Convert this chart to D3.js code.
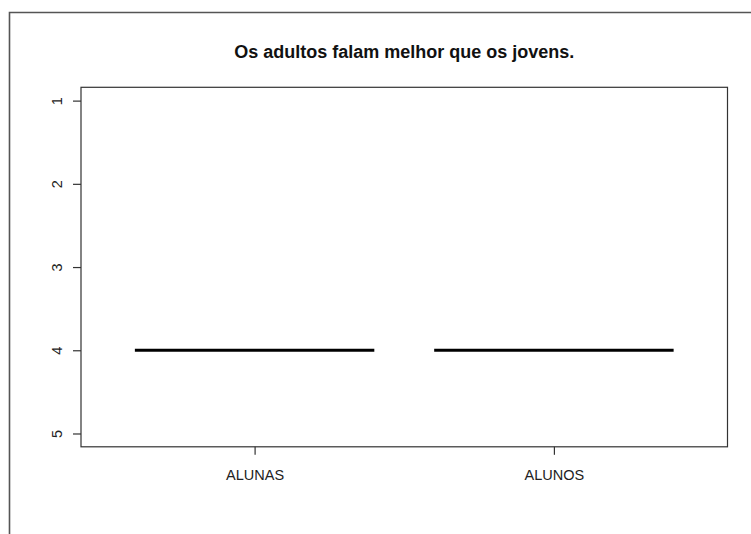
<!DOCTYPE html>
<html><head><meta charset="utf-8">
<script src="https://cdn.jsdelivr.net/npm/d3@7"></script>
<style>html,body{margin:0;padding:0;background:#fff;}svg{display:block;font-family:"Liberation Sans",Arial,sans-serif;}</style>
</head><body>
<script>
const categories = ["ALUNAS", "ALUNOS"];
const medians = [4, 4];
const q1 = [4, 4];
const q3 = [4, 4];
const yTicks = [1, 2, 3, 4, 5];
const title = "Os adultos falam melhor que os jovens.";

const W = 751, H = 534;
const plot = {left: 81, right: 727.5, top: 87.3, bottom: 446.8};
const svg = d3.select("body").append("svg").attr("width", W).attr("height", H);

// outer frame (top and left edges visible)
svg.append("path").attr("d", `M9.5,${H} V12.5 H${W}`).attr("fill","none").attr("stroke","#555").attr("stroke-width",1.6);

const x = d3.scaleLinear().domain([0.42, 2.58]).range([plot.left, plot.right]);
const y = d3.scaleLinear().domain([0.84, 5.16]).range([plot.top, plot.bottom]);
const boxW = 0.8;

// boxes (degenerate: q1 = median = q3)
const g = svg.append("g");
categories.forEach((c, i) => {
  const cx = i + 1;
  g.append("rect").attr("x", x(cx - boxW/2)).attr("width", x(cx + boxW/2) - x(cx - boxW/2))
    .attr("y", y(Math.min(q1[i], q3[i]))).attr("height", Math.abs(y(q3[i]) - y(q1[i])))
    .attr("fill","none").attr("stroke","#000").attr("stroke-width",1);
  g.append("line").attr("x1", x(cx - boxW/2)).attr("x2", x(cx + boxW/2))
    .attr("y1", y(medians[i])).attr("y2", y(medians[i]))
    .attr("stroke","#000").attr("stroke-width",3.2);
});

// plot box
svg.append("rect").attr("x", plot.left).attr("y", plot.top)
  .attr("width", plot.right - plot.left).attr("height", plot.bottom - plot.top)
  .attr("fill","none").attr("stroke","#333").attr("stroke-width",1.2);

// y axis
const yAxis = d3.axisLeft(y).tickValues(yTicks).tickSize(8).tickFormat(d3.format("d"));
const ya = svg.append("g").attr("transform", `translate(${plot.left},0)`).call(yAxis);
ya.select(".domain").remove();
ya.selectAll(".tick line").attr("stroke","#333").attr("stroke-width",1.2);
ya.selectAll(".tick text").attr("x", null).attr("dy", null)
  .attr("transform", "translate(-19,0) rotate(-90)")
  .attr("text-anchor","middle").attr("font-size", 14.5).attr("fill","#222")
  .style("font-family", '"Liberation Sans", Arial, sans-serif');

// x axis
const xAxis = d3.axisBottom(x).tickValues([1, 2]).tickSize(8).tickFormat(d => categories[d - 1]);
const xa = svg.append("g").attr("transform", `translate(0,${plot.bottom})`).call(xAxis);
xa.select(".domain").remove();
xa.selectAll(".tick line").attr("stroke","#333").attr("stroke-width",1.2);
xa.selectAll(".tick text").attr("y", 33).attr("dy", null)
  .attr("font-size", 14.5).attr("fill","#222")
  .style("font-family", '"Liberation Sans", Arial, sans-serif');

// title
svg.append("text").attr("x", (plot.left + plot.right) / 2).attr("y", 58)
  .attr("text-anchor","middle").attr("font-weight","bold").attr("font-size", 18)
  .attr("fill","#111").text(title);
</script>
</body></html>
